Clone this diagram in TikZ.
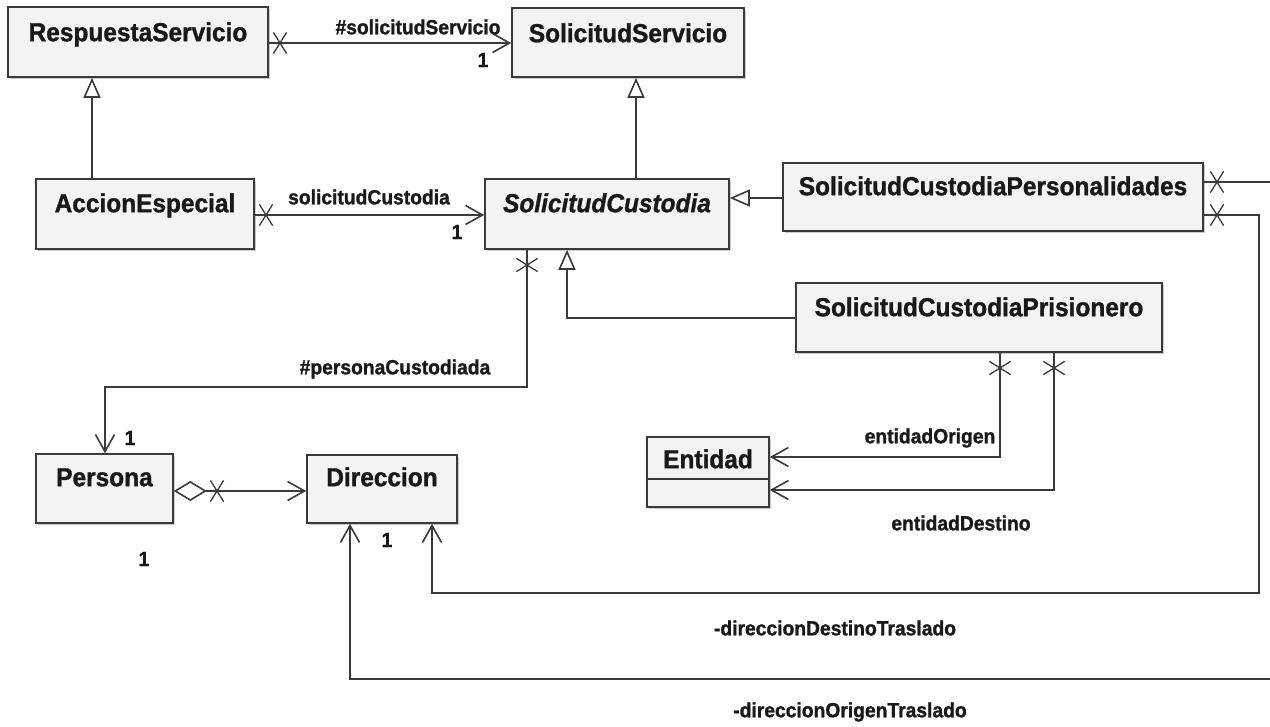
\documentclass[tikz,border=0pt]{standalone}
\usepackage{fontspec}
\usetikzlibrary{arrows.meta,shapes.misc,shadows}
\newfontfamily\umlfont{Liberation Sans}[FakeStretch=0.94, BoldFeatures={FakeBold=1.2}, BoldItalicFeatures={FakeBold=1.2}]
\definecolor{linecol}{HTML}{3A3A3A}
\definecolor{boxfill}{HTML}{F3F3F3}
\tikzset{
  umlbox/.style={draw=linecol, fill=boxfill, line width=1.6pt, inner sep=0pt,
    drop shadow={shadow xshift=1.5pt, shadow yshift=-2pt, opacity=0.4, fill=gray}},
  classname/.style={font=\umlfont\bfseries\fontsize{26}{30}\selectfont, text=black!90, inner sep=0pt, anchor=base},
  rolelbl/.style={font=\umlfont\bfseries\fontsize{20.5}{24}\selectfont, text=black!90, inner sep=0pt},
  conn/.style={draw=linecol, line width=1.6pt},
  nav/.style={conn, -{Straight Barb[length=17pt, width=19pt]}},
  gen/.style={conn, -{Triangle[open, length=20pt, width=17pt, fill=white]}},
  agg/.style={conn, {Diamond[open, length=33pt, width=20pt, fill=white]}-{Straight Barb[length=17pt, width=19pt]}},
  hcross/.style={cross out, draw=linecol, line width=1.3pt, inner sep=0pt, minimum width=12pt, minimum height=20pt},
  vcross/.style={cross out, draw=linecol, line width=1.3pt, inner sep=0pt, minimum width=20pt, minimum height=12pt},
}
\begin{document}
\begin{tikzpicture}[x=1pt, y=-1pt]
\useasboundingbox[fill=white] (0,0) rectangle (1270,727);

% classes
\node[umlbox, minimum width=260pt, minimum height=70pt] (rs)  at (138,42)    {};
\node[umlbox, minimum width=232pt, minimum height=69pt] (ss)  at (628,42.5)  {};
\node[umlbox, minimum width=218pt, minimum height=70pt] (ae)  at (145,214)   {};
\node[umlbox, minimum width=244pt, minimum height=70pt] (sc)  at (607,214)   {};
\node[umlbox, minimum width=420pt, minimum height=68pt] (scp) at (993,197)   {};
\node[umlbox, minimum width=366pt, minimum height=69pt] (spr) at (979,317.5) {};
\node[umlbox, minimum width=137pt, minimum height=69pt] (pe)  at (104.5,488.5) {};
\node[umlbox, minimum width=150pt, minimum height=68pt] (di)  at (382,489)   {};
\node[umlbox, minimum width=122pt, minimum height=70pt] (en)  at (708,472)   {};
\draw[draw=linecol, line width=1.6pt] (en.west |- 0,479) -- (en.east |- 0,479);

% class names
\node[classname] (rsT)  at ([yshift=-35pt]rs.north)  {RespuestaServicio};
\node[classname] (ssT)  at ([yshift=-35pt]ss.north)  {SolicitudServicio};
\node[classname] (aeT)  at ([yshift=-34pt]ae.north)  {AccionEspecial};
\node[classname, font=\umlfont\bfseries\itshape\fontsize{26}{30}\selectfont] (scT) at ([yshift=-34pt]sc.north) {SolicitudCustodia};
\node[classname] (scpT) at ([yshift=-33pt]scp.north) {SolicitudCustodiaPersonalidades};
\node[classname] (sprT) at ([yshift=-34pt]spr.north) {SolicitudCustodiaPrisionero};
\node[classname] (peT)  at ([yshift=-33pt]pe.north)  {Persona};
\node[classname] (diT)  at ([yshift=-32pt]di.north)  {Direccion};
\node[classname] (enT)  at ([yshift=-32pt]en.north)  {Entidad};

% generalizations
\draw[gen] (ae.north -| 92,0) -- (rs.south -| 92,0);
\draw[gen] (sc.north -| 636,0) -- (ss.south -| 636,0);
\draw[gen] (scp.west |- 0,198) -- (sc.east |- 0,198);
\draw[gen] (spr.west |- 0,318) -| (sc.south -| 567,0);

% associations
\draw[nav] (rs.east |- 0,43) -- (ss.west |- 0,43);
\draw[nav] (ae.east |- 0,215) -- (sc.west |- 0,215);
\draw[nav] (sc.south -| 527,0) -- (527,387) -- (105,387) -- (pe.north -| 105,0);
\draw[agg] (pe.east |- 0,491) -- (di.west |- 0,491);
\draw[nav] (spr.south -| 1000,0) |- (en.east |- 0,457);
\draw[nav] (spr.south -| 1054,0) |- (en.east |- 0,490);
\draw[nav] (scp.east |- 0,215) -- (1259,215) -- (1259,593) -| (di.south -| 432,0);
\draw[nav] (scp.east |- 0,182) -- (1273,182) -- (1273,679) -| (di.south -| 350,0);

% non-navigable ends
\node[hcross] (x1) at (280,43)   {};
\node[hcross] (x2) at (266,215)  {};
\node[hcross] (x3) at (1217,182) {};
\node[hcross] (x4) at (1217,215) {};
\node[hcross] (x5) at (217,491)  {};
\node[vcross] (x6) at (527,265)  {};
\node[vcross] (x7) at (1000,368) {};
\node[vcross] (x8) at (1054,368) {};

% role names and multiplicities
\node[rolelbl] (l1)  at (418,27)  {\#solicitudServicio};
\node[rolelbl] (m1)  at (483,60)  {1};
\node[rolelbl] (l2)  at (369,197) {solicitudCustodia};
\node[rolelbl] (m2)  at (457,232) {1};
\node[rolelbl] (l3)  at (395,369) {\#personaCustodiada};
\node[rolelbl] (m3)  at (130,438) {1};
\node[rolelbl] (m4)  at (144,559) {1};
\node[rolelbl] (m5)  at (387,540) {1};
\node[rolelbl] (l4)  at (930,438) {entidadOrigen};
\node[rolelbl] (l5)  at (961,523) {entidadDestino};
\node[rolelbl] (l6)  at (835,628) {-direccionDestinoTraslado};
\node[rolelbl] (l7)  at (850,712) {-direccionOrigenTraslado};
\end{tikzpicture}
\end{document}
